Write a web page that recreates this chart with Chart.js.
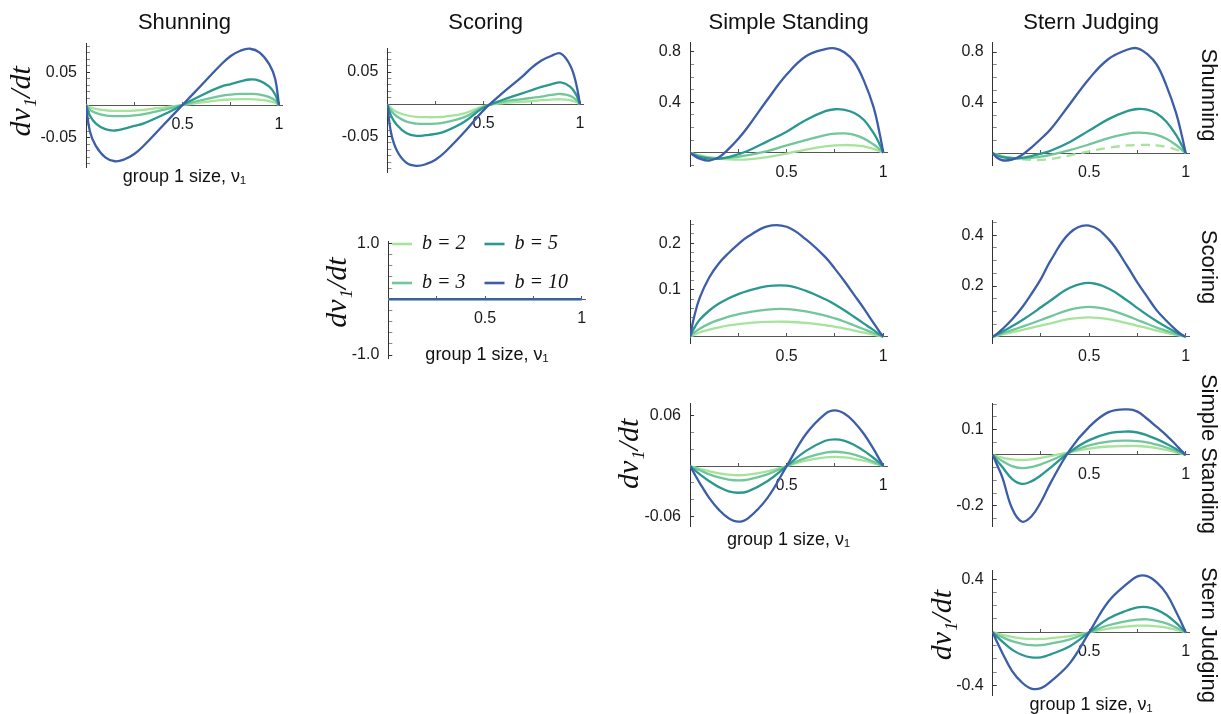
<!DOCTYPE html>
<html>
<head>
<meta charset="utf-8">
<script src="https://cdn.jsdelivr.net/npm/chart.js"></script>
<style>
html,body{margin:0;padding:0;background:#fff;overflow:hidden;}
#wrap{position:relative;width:1221px;height:714px;overflow:hidden;background:#fff;}
#wrap canvas{position:absolute;}
</style>
</head>
<body>
<div id="wrap"></div>
<script>
// ---------------- text ----------------
const SERIES_LABELS = ['b = 2', 'b = 3', 'b = 5', 'b = 10'];
const COLUMN_TITLES = ['Shunning', 'Scoring', 'Simple Standing', 'Stern Judging'];
const ROW_LABELS = ['Shunning', 'Scoring', 'Simple Standing', 'Stern Judging'];
const Y_TITLE = 'dν₁/dt';
const X_TITLE = 'group 1 size, ν₁';
const X_TICKS = [0.25, 0.5, 0.75, 1];
const X_TICK_LABELS = ['', '0.5', '', '1'];
const LEGEND_ORDER = [0, 2, 1, 3];

// y tick values / labels per panel (row_col)
const YT_SH_SH = [-0.05, 0.05], YL_SH_SH = ['-0.05', '0.05'];
const YT_SH_SC = [-0.05, 0.05], YL_SH_SC = ['-0.05', '0.05'];
const YT_SH_SS = [0.4, 0.8],    YL_SH_SS = ['0.4', '0.8'];
const YT_SH_SJ = [0.4, 0.8],    YL_SH_SJ = ['0.4', '0.8'];
const YT_SC_SC = [-1, 1],       YL_SC_SC = ['-1.0', '1.0'];
const YT_SC_SS = [0.1, 0.2],    YL_SC_SS = ['0.1', '0.2'];
const YT_SC_SJ = [0.2, 0.4],    YL_SC_SJ = ['0.2', '0.4'];
const YT_SS_SS = [-0.06, 0.06], YL_SS_SS = ['-0.06', '0.06'];
const YT_SS_SJ = [-0.2, 0.1],   YL_SS_SJ = ['-0.2', '0.1'];
const YT_SJ_SJ = [-0.4, 0.4],   YL_SJ_SJ = ['-0.4', '0.4'];

// ---------------- data ----------------
// group 1 size, nu_1 (sample positions)
const X = [0, 0.02, 0.05, 0.1, 0.15, 0.2, 0.25, 0.3, 0.4, 0.5, 0.6, 0.7, 0.75, 0.8, 0.85, 0.9, 0.95, 0.98, 1];
const X_FLAT = [0, 1];

// row Shunning, column Shunning
const sh_sh_b2  = [0,-0.0035,-0.006,-0.008,-0.009,-0.009,-0.0085,-0.0075,-0.004,0,0.004,0.0075,0.0085,0.009,0.009,0.008,0.006,0.0035,0];
const sh_sh_b3  = [0,-0.007,-0.012,-0.016,-0.017,-0.017,-0.016,-0.014,-0.0075,0,0.0075,0.014,0.016,0.017,0.017,0.016,0.012,0.007,0];
const sh_sh_b5  = [0,-0.016,-0.028,-0.037,-0.039,-0.036,-0.032,-0.028,-0.015,0,0.015,0.028,0.032,0.036,0.039,0.037,0.028,0.016,0];
const sh_sh_b10 = [0,-0.040,-0.062,-0.080,-0.086,-0.083,-0.075,-0.062,-0.031,0,0.031,0.062,0.075,0.083,0.086,0.080,0.062,0.040,0];

// row Shunning, column Scoring
const sh_sc_b2  = [0,-0.006,-0.012,-0.017,-0.0195,-0.020,-0.020,-0.019,-0.014,-0.003,0.002,0.004,0.005,0.0065,0.0072,0.0078,0.0065,0.0035,0];
const sh_sc_b3  = [0,-0.010,-0.019,-0.027,-0.030,-0.0305,-0.030,-0.028,-0.020,-0.004,0.004,0.008,0.010,0.012,0.0145,0.016,0.013,0.007,0];
const sh_sc_b5  = [0,-0.018,-0.032,-0.045,-0.049,-0.048,-0.046,-0.042,-0.027,-0.005,0.007,0.017,0.022,0.027,0.031,0.034,0.027,0.015,0];
const sh_sc_b10 = [0,-0.045,-0.072,-0.091,-0.0955,-0.093,-0.086,-0.074,-0.043,-0.009,0.018,0.043,0.057,0.068,0.075,0.079,0.060,0.032,0];

// row Shunning, column Simple Standing
const sh_ss_b2  = [0,-0.010,-0.022,-0.037,-0.047,-0.053,-0.055,-0.053,-0.035,-0.007,0.025,0.050,0.058,0.061,0.059,0.050,0.030,0.013,0];
const sh_ss_b3  = [0,-0.012,-0.027,-0.040,-0.044,-0.040,-0.032,-0.020,0.012,0.058,0.100,0.140,0.152,0.153,0.142,0.112,0.065,0.028,0];
const sh_ss_b5  = [0,-0.015,-0.033,-0.047,-0.048,-0.035,-0.012,0.015,0.090,0.167,0.260,0.330,0.345,0.340,0.315,0.260,0.155,0.070,0];
const sh_ss_b10 = [0,-0.022,-0.047,-0.062,-0.035,0.030,0.110,0.206,0.420,0.620,0.765,0.822,0.828,0.795,0.720,0.570,0.360,0.160,0];

// row Shunning, column Stern Judging
const sh_sj_b2  = [0,-0.008,-0.020,-0.036,-0.047,-0.052,-0.052,-0.046,-0.016,0.015,0.044,0.062,0.066,0.066,0.062,0.050,0.030,0.012,0];
const sh_sj_b3  = [0,-0.012,-0.025,-0.037,-0.040,-0.036,-0.026,-0.012,0.025,0.070,0.120,0.155,0.163,0.160,0.146,0.115,0.066,0.028,0];
const sh_sj_b5  = [0,-0.015,-0.030,-0.040,-0.036,-0.022,-0.003,0.020,0.090,0.180,0.270,0.335,0.350,0.345,0.315,0.250,0.145,0.063,0];
const sh_sj_b10 = [0,-0.032,-0.055,-0.050,-0.015,0.045,0.115,0.190,0.390,0.590,0.745,0.820,0.830,0.785,0.700,0.535,0.320,0.140,0];

// row Scoring, column Scoring (flat)
const sc_sc_b2  = [0, 0];
const sc_sc_b3  = [0, 0];
const sc_sc_b5  = [0, 0];
const sc_sc_b10 = [0, 0];

// row Scoring, column Simple Standing
const sc_ss_b2  = [0,0.004,0.009,0.015,0.020,0.024,0.027,0.029,0.0318,0.032,0.0295,0.0245,0.021,0.0175,0.0132,0.0088,0.0044,0.0017,0];
const sc_ss_b3  = [0,0.008,0.017,0.028,0.036,0.043,0.048,0.052,0.058,0.059,0.054,0.045,0.039,0.032,0.024,0.016,0.008,0.003,0];
const sc_ss_b5  = [0,0.017,0.036,0.056,0.071,0.082,0.091,0.098,0.108,0.109,0.098,0.080,0.069,0.056,0.042,0.028,0.014,0.005,0];
const sc_ss_b10 = [0,0.040,0.083,0.127,0.157,0.179,0.198,0.214,0.236,0.235,0.208,0.170,0.145,0.118,0.089,0.060,0.029,0.011,0];

// row Scoring, column Stern Judging
const sc_sj_b2  = [0,0.003,0.009,0.017,0.026,0.035,0.044,0.053,0.070,0.076,0.069,0.053,0.043,0.034,0.024,0.015,0.007,0.003,0];
const sc_sj_b3  = [0,0.005,0.013,0.026,0.039,0.052,0.066,0.080,0.107,0.118,0.107,0.081,0.066,0.051,0.036,0.023,0.010,0.004,0];
const sc_sj_b5  = [0,0.008,0.020,0.041,0.064,0.089,0.116,0.143,0.193,0.212,0.190,0.141,0.113,0.086,0.061,0.038,0.017,0.006,0];
const sc_sj_b10 = [0,0.010,0.030,0.068,0.113,0.168,0.228,0.300,0.410,0.438,0.385,0.275,0.213,0.158,0.104,0.063,0.026,0.008,0];

// row Simple Standing, column Simple Standing
const ss_ss_b2  = [0,-0.0013,-0.0033,-0.0063,-0.0086,-0.0102,-0.0109,-0.0102,-0.0063,0,0.0063,0.0102,0.0109,0.0102,0.0086,0.0063,0.0033,0.0013,0];
const ss_ss_b3  = [0,-0.002,-0.005,-0.0098,-0.0135,-0.016,-0.017,-0.016,-0.0098,0,0.0098,0.016,0.017,0.016,0.0135,0.0098,0.005,0.002,0];
const ss_ss_b5  = [0,-0.004,-0.0096,-0.018,-0.025,-0.030,-0.0317,-0.030,-0.018,0,0.018,0.030,0.0317,0.030,0.025,0.018,0.0096,0.004,0];
const ss_ss_b10 = [0,-0.008,-0.020,-0.038,-0.052,-0.062,-0.066,-0.062,-0.038,0,0.038,0.062,0.066,0.062,0.052,0.038,0.020,0.008,0];

// row Simple Standing, column Stern Judging
const ss_sj_b2  = [0,-0.005,-0.011,-0.018,-0.020,-0.018,-0.012,-0.005,0.011,0.025,0.033,0.035,0.035,0.032,0.027,0.020,0.010,0.004,0];
const ss_sj_b3  = [0,-0.010,-0.024,-0.044,-0.052,-0.048,-0.037,-0.022,0.010,0.037,0.052,0.056,0.054,0.049,0.040,0.029,0.015,0.006,0];
const ss_sj_b5  = [0,-0.020,-0.048,-0.094,-0.114,-0.104,-0.080,-0.050,0.012,0.058,0.085,0.092,0.088,0.077,0.062,0.044,0.023,0.009,0];
const ss_sj_b10 = [0,-0.035,-0.088,-0.210,-0.262,-0.242,-0.185,-0.110,0.020,0.110,0.168,0.179,0.170,0.142,0.110,0.077,0.039,0.015,0];

// row Stern Judging, column Stern Judging
const sj_sj_b2  = [0,-0.008,-0.019,-0.035,-0.045,-0.050,-0.050,-0.044,-0.028,0,0.028,0.044,0.050,0.050,0.045,0.035,0.019,0.008,0];
const sj_sj_b3  = [0,-0.015,-0.036,-0.067,-0.086,-0.097,-0.096,-0.085,-0.053,0,0.053,0.085,0.096,0.097,0.086,0.067,0.036,0.015,0];
const sj_sj_b5  = [0,-0.029,-0.070,-0.130,-0.169,-0.189,-0.188,-0.166,-0.104,0,0.104,0.166,0.188,0.189,0.169,0.130,0.070,0.029,0];
const sj_sj_b10 = [0,-0.065,-0.155,-0.290,-0.375,-0.423,-0.420,-0.370,-0.232,0,0.232,0.370,0.420,0.423,0.375,0.290,0.155,0.065,0];

// ---------------- styles / layout ----------------
const COLORS = ['#a6e39b', '#72c69b', '#2b9890', '#3c5da8'];
const LW = 2.3;
const XMAX = 1.02;
const SANS = "'Liberation Sans', Arial, sans-serif";
const SERIF = "'Liberation Serif', 'Times New Roman', serif";
const TICK_FONT = 16, TITLE_FONT = 22, XT_FONT = 18, YT_FONT = 30, LEG_FONT = 20;

const PANELS = [
  {xs:X, s:[sh_sh_b2,sh_sh_b3,sh_sh_b5,sh_sh_b10], x0:86,    x1:279,    top:43,    bot:167,   ymin:-0.0948, ymax:0.0948, yt:YT_SH_SH, yl:YL_SH_SH, minor:0.01, col:0, yTitleX:22,  yShift:1, xTitleY:177},
  {xs:X, s:[sh_sc_b2,sh_sc_b3,sh_sc_b5,sh_sc_b10], x0:387.3, x1:580,    top:48,    bot:172,   ymin:-0.1051, ymax:0.0874, yt:YT_SH_SC, yl:YL_SH_SC, minor:0.01, col:1},
  {xs:X, s:[sh_ss_b2,sh_ss_b3,sh_ss_b5,sh_ss_b10], x0:690,   x1:883.3,  top:42.7,  bot:166.7, ymin:-0.111,  ymax:0.873,  yt:YT_SH_SS, yl:YL_SH_SS, minor:0.1,  col:2},
  {xs:X, s:[sh_sj_b2,sh_sj_b3,sh_sj_b5,sh_sj_b10], x0:992.7, x1:1185.7, top:42.7,  bot:165.7, ymin:-0.098,  ymax:0.874,  yt:YT_SH_SJ, yl:YL_SH_SJ, minor:0.1,  col:3, dashB2:true},
  {xs:X_FLAT, s:[sc_sc_b2,sc_sc_b3,sc_sc_b5,sc_sc_b10], x0:388.3, x1:581.7, top:241.7, bot:358.3, ymin:-1.058, ymax:1.03, yt:YT_SC_SC, yl:YL_SC_SC, minor:0.2, yTitleX:337.5, yShift:2, xTitleY:355},
  {xs:X, s:[sc_ss_b2,sc_ss_b3,sc_ss_b5,sc_ss_b10], x0:690,   x1:883.3,  top:220,   bot:343.3, ymin:-0.0141, ymax:0.2494, yt:YT_SC_SS, yl:YL_SC_SS, minor:0.02},
  {xs:X, s:[sc_sj_b2,sc_sj_b3,sc_sj_b5,sc_sj_b10], x0:992.7, x1:1185.7, top:220,   bot:343.3, ymin:-0.026,  ymax:0.4604, yt:YT_SC_SJ, yl:YL_SC_SJ, minor:0.05},
  {xs:X, s:[ss_ss_b2,ss_ss_b3,ss_ss_b5,ss_ss_b10], x0:690,   x1:883.3,  top:403.3, bot:526.7, ymin:-0.072,  ymax:0.0745, yt:YT_SS_SS, yl:YL_SS_SS, minor:0.02, yTitleX:630, yShift:3, xTitleY:540},
  {xs:X, s:[ss_sj_b2,ss_sj_b3,ss_sj_b5,ss_sj_b10], x0:992.7, x1:1185.7, top:403.3, bot:526.7, ymin:-0.2823, ymax:0.2028, yt:YT_SS_SJ, yl:YL_SS_SJ, minor:0.05},
  {xs:X, s:[sj_sj_b2,sj_sj_b3,sj_sj_b5,sj_sj_b10], x0:992.7, x1:1185.7, top:570,   bot:695,   ymin:-0.4714, ymax:0.4684, yt:YT_SJ_SJ, yl:YL_SJ_SJ, minor:0.1,  yTitleX:943, yShift:2, xTitleY:705}
];
const ROW_LABEL_CENTERS = [94.5, 266.7, 454, 635];

const wrap = document.getElementById('wrap');
function addCanvas(left, top, w, h) {
  const c = document.createElement('canvas');
  c.width = w; c.height = h;
  c.style.left = left + 'px'; c.style.top = top + 'px';
  c.style.width = w + 'px'; c.style.height = h + 'px';
  wrap.appendChild(c);
  return c;
}
function zeroPad(s) { s.paddingLeft = 0; s.paddingRight = 0; s.paddingTop = 0; s.paddingBottom = 0; }
function minorTicks(min, max, step, majors) {
  const out = [];
  for (let k = Math.ceil(min / step - 1e-9); k * step <= max + 1e-9; k++) {
    const v = +(k * step).toFixed(6);
    if (Math.abs(v) < 1e-9) continue;
    if (majors.some(m => Math.abs(m - v) < 1e-9)) continue;
    out.push(v);
  }
  return out;
}

function buildPanel(p) {
  const hasCol = p.col != null, hasYT = p.yTitleX != null, hasXT = p.xTitleY != null;
  const areaRight = p.x0 + (p.x1 - p.x0) * XMAX;
  const cl = Math.round(hasYT ? p.yTitleX - YT_FONT * 0.6 : p.x0 - 55);
  const wy = p.x0 - cl;
  const cr = Math.ceil(areaRight + 22);
  const padR = cr - areaRight;
  const ct = hasCol ? 10 : Math.round(p.top - 30);
  const padT = hasCol ? 0 : p.top - ct;
  const titlePadB = hasCol ? p.top - ct - TITLE_FONT * 1.2 : 0;
  const hx = hasXT ? p.xTitleY + XT_FONT * 0.6 - p.bot : 0;
  const cb = hasXT ? Math.ceil(p.xTitleY + XT_FONT * 0.6) : Math.ceil(p.bot + 35);
  const padB = cb - p.bot - hx;
  const canvas = addCanvas(cl, ct, cr - cl, cb - ct);

  const datasets = p.s.map((arr, i) => ({
    label: SERIES_LABELS[i],
    data: p.xs.map((x, j) => ({x: x, y: arr[j]})),
    borderColor: COLORS[i], backgroundColor: COLORS[i], borderWidth: LW,
    borderDash: (p.dashB2 && i === 0) ? [9, 6] : [],
    pointRadius: 0, pointHoverRadius: 0, fill: false,
    tension: 0.4, order: 3 - i
  }));

  const yTicks = p.yt.concat(minorTicks(p.ymin, p.ymax, p.minor, p.yt)).sort((a, b) => a - b);
  const scales = {
    x: {
      type: 'linear', min: 0, max: XMAX, position: {y: 0}, z: 1,
      afterBuildTicks: s => { s.ticks = X_TICKS.map(v => ({value: v})); },
      afterFit: zeroPad,
      ticks: {autoSkip: false, maxRotation: 0, padding: 14, color: '#1a1a1a',
              font: {family: SANS, size: TICK_FONT}, callback: (v, i) => X_TICK_LABELS[i]},
      grid: {display: true, drawOnChartArea: false, drawTicks: true, tickLength: -4, tickColor: '#555', tickWidth: 1},
      border: {display: true, color: '#555', width: 1}
    },
    y: {
      type: 'linear', position: 'left', min: p.ymin, max: p.ymax,
      afterBuildTicks: s => { s.ticks = yTicks.map(v => ({value: v, major: p.yt.some(m => Math.abs(m - v) < 1e-9)})); },
      afterFit: s => { s.width = wy; zeroPad(s); },
      ticks: {autoSkip: false, padding: 13, color: '#1a1a1a', font: {family: SANS, size: TICK_FONT},
              callback: v => { const k = p.yt.findIndex(m => Math.abs(m - v) < 1e-9); return k >= 0 ? p.yl[k] : ''; }},
      grid: {display: true, drawOnChartArea: false, drawTicks: true, tickLength: -4,
             tickColor: c => (c.tick && c.tick.major) ? '#333' : '#888', tickWidth: 1},
      border: {display: true, color: '#333', width: 1},
      title: hasYT ? {display: true, text: ' '.repeat(p.yShift) + Y_TITLE, color: '#111', padding: 0,
                      font: {family: SERIF, style: 'italic', size: YT_FONT}} : {display: false}
    }
  };
  if (hasXT) {
    scales.x2 = {
      type: 'linear', position: 'bottom', min: 0, max: 1, display: true,
      ticks: {display: false}, grid: {display: false}, border: {display: false},
      afterFit: s => { s.height = hx; zeroPad(s); },
      title: {display: true, text: X_TITLE, color: '#111', padding: 0, font: {family: SANS, size: XT_FONT}}
    };
  }
  new Chart(canvas, {
    type: 'line',
    data: {datasets},
    options: {
      responsive: false, animation: false, events: [],
      layout: {padding: {left: 0, right: padR, top: padT, bottom: padB}},
      plugins: {
        legend: {display: false}, tooltip: {enabled: false},
        title: hasCol ? {display: true, text: COLUMN_TITLES[p.col], position: 'top', fullSize: false,
                         align: 'center', color: '#111', font: {family: SANS, size: TITLE_FONT, weight: 'normal'},
                         padding: {top: 0, bottom: titlePadB}} : {display: false}
      },
      scales
    }
  });
}

PANELS.forEach(buildPanel);

// row labels on the right
ROW_LABELS.forEach((txt, i) => {
  const h = 180;
  const c = addCanvas(1181, Math.round(ROW_LABEL_CENTERS[i] - h / 2), 40, h);
  new Chart(c, {
    type: 'line', data: {datasets: []},
    options: {
      responsive: false, animation: false, events: [], layout: {padding: 0},
      scales: {x: {display: false}, y: {display: false}},
      plugins: {legend: {display: false}, tooltip: {enabled: false},
        title: {display: true, text: txt, position: 'right', fullSize: true, color: '#111', padding: 0,
                font: {family: SANS, size: TITLE_FONT, weight: 'normal'}}}
    }
  });
});

// legend (in the Scoring / Scoring cell)
(function () {
  const c = addCanvas(373, 215, 230, 220);
  new Chart(c, {
    type: 'line',
    data: {datasets: SERIES_LABELS.map((l, i) => ({label: l, data: [], borderColor: COLORS[i], backgroundColor: COLORS[i], borderWidth: 2.6}))},
    options: {
      responsive: false, animation: false, events: [], layout: {padding: 0},
      scales: {x: {display: false}, y: {display: false}},
      plugins: {
        tooltip: {enabled: false},
        legend: {display: true, position: 'top', align: 'start',
          labels: {usePointStyle: true, pointStyle: 'line', pointStyleWidth: 20, padding: 19, color: '#111',
                   font: {family: SERIF, style: 'italic', size: LEG_FONT},
                   sort: (a, b) => LEGEND_ORDER.indexOf(a.datasetIndex) - LEGEND_ORDER.indexOf(b.datasetIndex)}}
      }
    }
  });
})();
</script>
</body>
</html>
